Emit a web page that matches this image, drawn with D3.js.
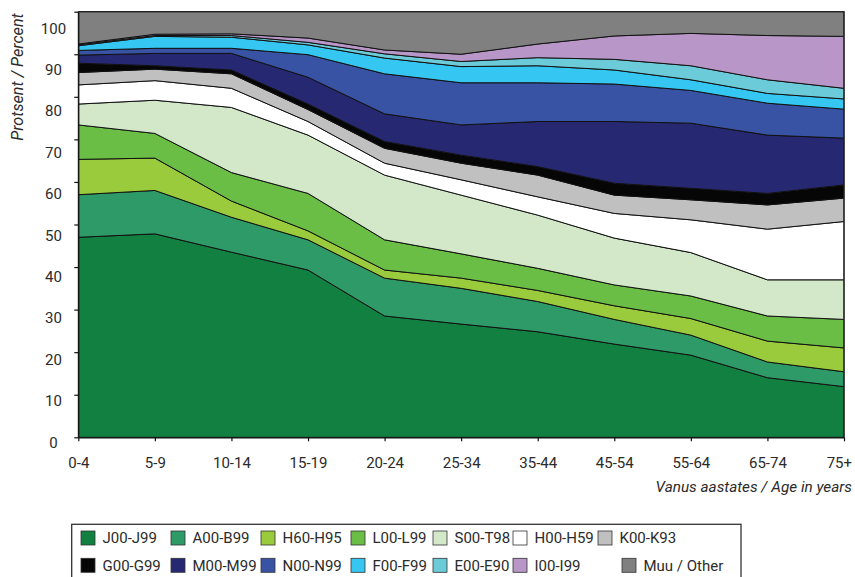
<!DOCTYPE html>
<html>
<head>
<meta charset="utf-8">
<script src="https://cdn.jsdelivr.net/npm/d3@7"></script>
<style>
  body { margin: 0; background: #fff; }
  svg text { font-family: Roboto, "DejaVu Sans", sans-serif; fill: #2b2b2b; }
</style>
</head>
<body>
<svg id="chart" width="855" height="577"></svg>
<script>
// Age groups (x axis) and y tick values
const ageGroups = ["0-4", "5-9", "10-14", "15-19", "20-24", "25-34", "35-44", "45-54", "55-64", "65-74", "75+"];
const yTicks = [0, 10, 20, 30, 40, 50, 60, 70, 80, 90, 100];

// Diagnosis groups, bottom of the stack first
const seriesNames = ["J00-J99", "A00-B99", "H60-H95", "L00-L99", "S00-T98", "H00-H59", "K00-K93",
                     "G00-G99", "M00-M99", "N00-N99", "F00-F99", "E00-E90", "I00-I99", "Muu / Other"];

// Share of each group per age group, percent
const j00_j99 = [47.0, 47.8, 43.5, 39.3, 28.5, 26.6, 24.8, 21.9, 19.3, 14.0, 11.9];
const a00_b99 = [10.0, 10.2, 8.2, 7.1, 8.9, 8.4, 7.1, 5.8, 4.7, 3.7, 3.5];
const h60_h95 = [8.3, 7.6, 3.8, 2.1, 1.9, 2.4, 2.6, 3.2, 3.9, 4.9, 5.6];
const l00_l99 = [8.1, 5.8, 6.7, 8.8, 7.1, 5.7, 5.2, 4.9, 5.3, 5.9, 6.7];
const s00_t98 = [4.9, 7.8, 15.3, 13.7, 15.2, 13.8, 12.5, 11.0, 10.2, 8.5, 9.3];
const h00_h59 = [4.5, 4.6, 4.5, 3.2, 2.8, 3.6, 4.3, 5.8, 7.7, 11.9, 13.7];
const k00_k93 = [2.9, 2.7, 3.4, 2.8, 3.5, 3.9, 5.1, 4.3, 4.7, 5.7, 5.5];
const g00_g99 = [2.2, 0.8, 0.9, 1.3, 1.6, 1.9, 2.0, 2.8, 2.7, 2.7, 3.1];
const m00_m99 = [1.9, 2.9, 3.9, 6.3, 6.5, 7.1, 10.6, 14.5, 15.3, 13.7, 11.0];
const n00_n99 = [1.1, 1.2, 1.2, 5.3, 9.4, 9.9, 9.1, 8.8, 7.7, 7.5, 6.8];
const f00_f99 = [1.1, 2.8, 2.6, 2.3, 3.7, 3.8, 4.0, 3.3, 2.5, 2.3, 2.4];
const e00_e90 = [0.2, 0.2, 0.4, 0.6, 1.0, 1.2, 1.9, 2.5, 3.3, 3.2, 2.5];
const i00_i99 = [0.2, 0.3, 0.4, 1.0, 0.9, 1.7, 3.2, 5.5, 7.6, 10.4, 12.2];
const other   = [7.6, 5.3, 5.2, 6.2, 9.0, 10.0, 7.6, 5.7, 5.1, 5.6, 5.8];

const seriesValues = [j00_j99, a00_b99, h60_h95, l00_l99, s00_t98, h00_h59, k00_k93,
                      g00_g99, m00_m99, n00_n99, f00_f99, e00_e90, i00_i99, other];

const seriesColors = ["#118040", "#2e9a68", "#9acb3c", "#6abd45", "#d2e8c8", "#ffffff", "#c0c0c0",
                      "#060606", "#272872", "#3953a4", "#35c7f2", "#6ccbd8", "#b897c8", "#808080"];

// Table for d3.stack
const table = ageGroups.map((age, i) => {
  const row = { age };
  seriesNames.forEach((name, k) => { row[name] = seriesValues[k][i]; });
  return row;
});

const svg = d3.select("#chart");
const plot = { left: 78.3, right: 844, top: 11.7, bottom: 437.3 };

const x = d3.scalePoint().domain(ageGroups).range([plot.left, plot.right]);
const y = d3.scaleLinear().domain([0, 100]).range([plot.bottom, plot.top]);
// value labels of the y axis sit on their own slightly tighter scale
const yLabel = d3.scaleLinear().domain([0, 100]).range([442.3, 28.3]);

const stacked = d3.stack().keys(seriesNames)(table);
const area = d3.area()
  .x(d => x(d.data.age))
  .y0(d => y(d[0]))
  .y1(d => y(d[1]));

svg.append("g").selectAll("path")
  .data(stacked)
  .join("path")
  .attr("d", area)
  .attr("fill", (d, i) => seriesColors[i])
  .attr("stroke", "#111")
  .attr("stroke-width", 1)
  .attr("stroke-linejoin", "round");

// Frame (top and right)
svg.append("path")
  .attr("d", `M${plot.left},${plot.top}H${plot.right}V${plot.bottom}`)
  .attr("fill", "none")
  .attr("stroke", "#222")
  .attr("stroke-width", 1.2);

// Y axis
const yAxis = svg.append("g")
  .attr("transform", `translate(${plot.left},0)`)
  .call(d3.axisLeft(y).tickValues(yTicks).tickSize(4).tickSizeOuter(0).tickFormat(""));
yAxis.selectAll("path, line").attr("stroke", "#111").attr("stroke-width", 1.2);

svg.append("g").selectAll("text")
  .data(yTicks)
  .join("text")
  .attr("x", 53.5)
  .attr("y", d => yLabel(d) + 5.3)
  .attr("text-anchor", "middle")
  .attr("font-size", 15)
  .text(d => d);

// X axis
const xAxis = svg.append("g")
  .attr("transform", `translate(0,${plot.bottom})`)
  .call(d3.axisBottom(x).tickSize(4).tickSizeOuter(0));
xAxis.selectAll("path, line").attr("stroke", "#111").attr("stroke-width", 1.2);
xAxis.selectAll("text")
  .attr("y", 31)
  .attr("dy", 0)
  .attr("font-size", 15)
  .attr("fill", "#2b2b2b")
  .style("font-family", "Roboto, 'DejaVu Sans', sans-serif")
  .each(function () {
    // keep the last label inside the canvas
    const b = this.getBBox();
    const tx = +this.parentNode.getAttribute("transform").match(/translate\(([-\d.]+)/)[1];
    const over = tx + b.x + b.width - 852;
    if (over > 0) d3.select(this).attr("x", -over);
  });

// Axis titles
svg.append("text")
  .attr("x", 852)
  .attr("y", 492)
  .attr("text-anchor", "end")
  .attr("font-size", 15.3)
  .attr("font-style", "italic")
  .text("Vanus aastates / Age in years");

svg.append("text")
  .attr("transform", "translate(22.5,77) rotate(-90)")
  .attr("text-anchor", "middle")
  .attr("font-size", 16.2)
  .attr("font-style", "italic")
  .text("Protsent / Percent");

// Legend
const legendCols = [[81, 171, 261, 351, 433, 513, 598], [81, 171, 261, 351, 433, 513, 622]];
const legendRows = [531, 558.3];

svg.append("rect")
  .attr("x", 71.7).attr("y", 524.3)
  .attr("width", 669.3).attr("height", 70)
  .attr("fill", "none").attr("stroke", "#333").attr("stroke-width", 1.3);

const items = svg.append("g").selectAll("g")
  .data(seriesNames)
  .join("g")
  .attr("transform", (d, i) => {
    const r = Math.floor(i / 7), c = i % 7;
    return `translate(${legendCols[r][c]},${legendRows[r]})`;
  });

items.append("rect")
  .attr("width", 14).attr("height", 14)
  .attr("fill", (d, i) => seriesColors[i])
  .attr("stroke", "#333").attr("stroke-width", 0.8);

items.append("text")
  .attr("x", 21.5)
  .attr("y", 12.4)
  .attr("font-size", 15)
  .text(d => d);
</script>
</body>
</html>
